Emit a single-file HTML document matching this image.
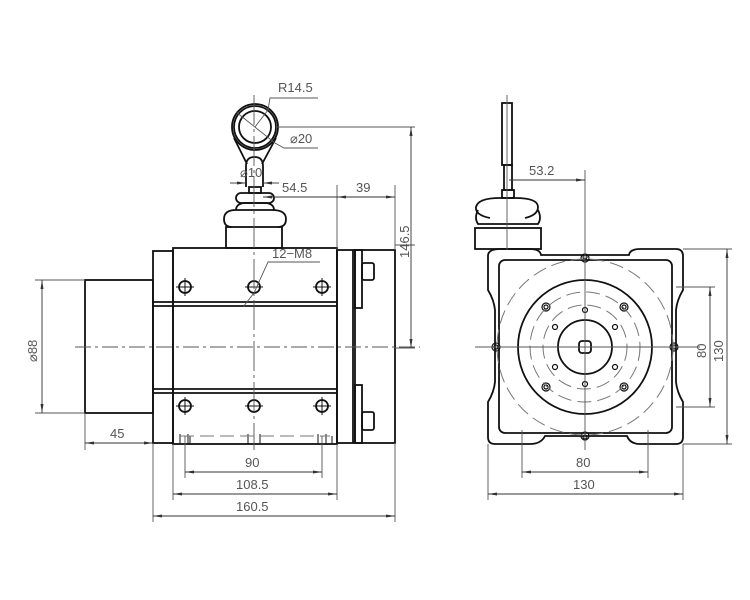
<!DOCTYPE html>
<html><head><style>html,body{margin:0;padding:0;background:#fff}svg{display:block}text{font-family:"Liberation Sans",sans-serif;font-size:13px;fill:#555}</style></head><body>
<svg width="750" height="600" viewBox="0 0 750 600">
<defs>
<marker id="a" markerWidth="10" markerHeight="6" refX="9" refY="3" orient="auto-start-reverse" markerUnits="userSpaceOnUse"><path d="M0,1.5 L9,3 L0,4.5z" fill="#333"/></marker>
</defs>
<g fill="none" stroke="#111" stroke-width="1.8">
<rect x="85" y="280" width="68" height="133"/>
<rect x="153" y="251" width="20" height="192"/>
<rect x="173" y="248" width="164" height="196"/>
<rect x="337" y="250" width="58" height="193"/>
<line x1="353" y1="250" x2="353" y2="443"/><line x1="355" y1="250" x2="355" y2="443"/>
<rect x="355" y="250" width="7" height="58"/><rect x="355" y="385" width="7" height="58"/>
<rect x="362" y="263" width="12" height="17" rx="2"/><rect x="362" y="412" width="12" height="18" rx="2"/>
<line x1="153" y1="302" x2="337" y2="302"/><line x1="153" y1="306" x2="337" y2="306"/>
<line x1="153" y1="389" x2="337" y2="389"/><line x1="153" y1="393" x2="337" y2="393"/>
<circle cx="185" cy="287" r="6"/><circle cx="254" cy="287" r="6"/><circle cx="322" cy="287" r="6"/>
<circle cx="185" cy="406" r="6"/><circle cx="254" cy="406" r="6"/><circle cx="322" cy="406" r="6"/>
<rect x="226" y="227" width="56" height="21"/>
<path d="M232,227 Q224,227 224,219 Q224,210 236,210 L272,210 Q286,210 286,219 Q286,227 278,227"/>
<path d="M236,210 Q236,204 244,203 L266,203 Q274,204 274,210"/>
<rect x="236" y="193" width="38" height="10" rx="5"/>
<rect x="249" y="187" width="12" height="6"/>
<path d="M246,187 L246,166 Q246,157 254.5,157 Q263,157 263,166 L263,187"/>
<path d="M234,138 L247,164 M276,138 L262,164"/>
<circle cx="255" cy="127" r="23"/><circle cx="255" cy="127" r="21"/><circle cx="255" cy="127" r="16"/>
<path d="M500,249 L530,249 Q540,249 541,255 L629,255 Q630,249 640,249 L676,249 Q683,249 683,256 L683,290 Q677,300 676,310 L676,382 Q677,392 683,402 L683,437 Q683,444 676,444 L640,444 Q630,444 627,436 L545,436 Q541,444 530,444 L495,444 Q488,444 488,437 L488,402 Q494,392 495,382 L495,310 Q494,300 488,290 L488,256 Q488,249 500,249z"/>
<rect x="499" y="260" width="173" height="173" rx="6"/>
<circle cx="585" cy="347" r="67"/><circle cx="585" cy="347" r="27"/>
<rect x="579" y="341" width="12" height="12" rx="3"/>
<rect x="502" y="103" width="10" height="62"/>
<rect x="504" y="165" width="8" height="25"/>
<rect x="502" y="190" width="12" height="8"/>
<path d="M490,218 Q475,215 476,207 Q478,198 500,198 L515,198 Q538,198 538,207 Q538,215 525,218"/>
<path d="M478,210 Q474,218 478,224 L538,224 Q542,218 538,210"/>
<rect x="475" y="228" width="66" height="21"/>
</g>
<g stroke="#111" stroke-width="1">
<path d="M176,287h18M185,278v18M245,287h18M313,287h18M322,278v18M176,406h18M185,397v18M245,406h18M313,406h18M322,397v18"/>
<path d="M180,434v10M188,434v10M248,434v10M260,434v10M318,434v10M326,434v10M190,436v8M332,436v8"/>
</g>
<g fill="none" stroke="#111" stroke-width="1.2">
<circle cx="585" cy="258" r="4"/><circle cx="585" cy="436" r="4"/><circle cx="496" cy="347" r="4"/><circle cx="674" cy="347" r="4"/>
<circle cx="546" cy="307" r="4"/><circle cx="624" cy="307" r="4"/><circle cx="546" cy="387" r="4"/><circle cx="624" cy="387" r="4"/>
<circle cx="585" cy="257" r="2"/><circle cx="585" cy="437" r="2"/><circle cx="496" cy="347" r="2"/><circle cx="674" cy="347" r="2"/>
<circle cx="546" cy="307" r="2"/><circle cx="624" cy="307" r="2"/><circle cx="546" cy="387" r="2"/><circle cx="624" cy="387" r="2"/>
<circle cx="585" cy="310" r="2.5"/><circle cx="585" cy="384" r="2.5"/><circle cx="555" cy="327" r="2.5"/><circle cx="615" cy="327" r="2.5"/><circle cx="555" cy="367" r="2.5"/><circle cx="615" cy="367" r="2.5"/>
</g>
<g fill="none" stroke="#777" stroke-width="1" stroke-dasharray="14,6">
<circle cx="585" cy="347" r="88"/><circle cx="585" cy="347" r="55"/><circle cx="585" cy="347" r="42"/>
<line x1="180" y1="436" x2="330" y2="436"/>
</g>
<g stroke="#555" stroke-width="0.9" fill="none">
<line x1="75" y1="347" x2="420" y2="347" stroke-dasharray="16,4,3,4"/>
<line x1="254" y1="95" x2="254" y2="450" stroke-dasharray="30,4,3,4"/>
<line x1="475" y1="347" x2="700" y2="347"/><line x1="585" y1="170" x2="585" y2="450"/>
<line x1="507" y1="95" x2="507" y2="250"/>
<line x1="276" y1="127" x2="415" y2="127"/>
<line x1="395" y1="245" x2="415" y2="245"/><line x1="395" y1="348" x2="415" y2="348"/>
<line x1="395" y1="185" x2="395" y2="250"/><line x1="337" y1="185" x2="337" y2="250"/>
<line x1="85" y1="413" x2="85" y2="450"/><line x1="153" y1="443" x2="153" y2="522"/><line x1="395" y1="443" x2="395" y2="522"/>
<line x1="173" y1="444" x2="173" y2="500"/><line x1="337" y1="444" x2="337" y2="500"/>
<line x1="185" y1="436" x2="185" y2="478"/><line x1="322" y1="436" x2="322" y2="478"/>
<line x1="35" y1="280" x2="85" y2="280"/><line x1="35" y1="413" x2="85" y2="413"/>
<line x1="683" y1="249" x2="732" y2="249"/><line x1="683" y1="444" x2="732" y2="444"/>
<line x1="676" y1="287" x2="715" y2="287"/><line x1="676" y1="407" x2="715" y2="407"/>
<line x1="488" y1="444" x2="488" y2="500"/><line x1="683" y1="444" x2="683" y2="500"/>
<line x1="522" y1="430" x2="522" y2="478"/><line x1="648" y1="430" x2="648" y2="478"/>
<path d="M255,127 L268,110 L270,98 L318,98"/>
<path d="M236,112 L275,143 L284,148 L318,148"/>
<path d="M243,307 L254,293 L268,262 L320,262"/>
</g>
<g stroke="#333" stroke-width="0.9" fill="none" marker-start="url(#a)" marker-end="url(#a)">
<line x1="411" y1="127" x2="411" y2="348"/>
<line x1="337" y1="197" x2="395" y2="197"/>
<line x1="42" y1="280" x2="42" y2="413"/>
<line x1="85" y1="443" x2="153" y2="443"/>
<line x1="185" y1="472" x2="322" y2="472"/>
<line x1="173" y1="494" x2="337" y2="494"/>
<line x1="153" y1="516" x2="395" y2="516"/>
<line x1="727" y1="249" x2="727" y2="444"/>
<line x1="710" y1="287" x2="710" y2="407"/>
<line x1="522" y1="472" x2="648" y2="472"/>
<line x1="488" y1="494" x2="683" y2="494"/>
</g>
<g stroke="#333" stroke-width="0.9" fill="none">
<line x1="263" y1="197" x2="337" y2="197" marker-start="url(#a)"/>
<line x1="509" y1="180" x2="585" y2="180" marker-end="url(#a)"/>
<line x1="230" y1="183" x2="246" y2="183" marker-end="url(#a)"/><line x1="279" y1="183" x2="263" y2="183" marker-end="url(#a)"/>
</g>
<text x="278" y="92">R14.5</text>
<text x="290" y="143">⌀20</text>
<text x="240" y="177">⌀10</text>
<text x="282" y="192">54.5</text>
<text x="356" y="192">39</text>
<text x="272" y="258">12−M8</text>
<text x="529" y="175">53.2</text>
<text transform="translate(409,258) rotate(-90)">146.5</text>
<text transform="translate(37,362) rotate(-90)">⌀88</text>
<text x="110" y="438">45</text>
<text x="245" y="467">90</text>
<text x="236" y="489">108.5</text>
<text x="236" y="511">160.5</text>
<text x="576" y="467">80</text>
<text x="573" y="489">130</text>
<text transform="translate(706,358) rotate(-90)">80</text>
<text transform="translate(723,362) rotate(-90)">130</text>
</svg>
</body></html>
